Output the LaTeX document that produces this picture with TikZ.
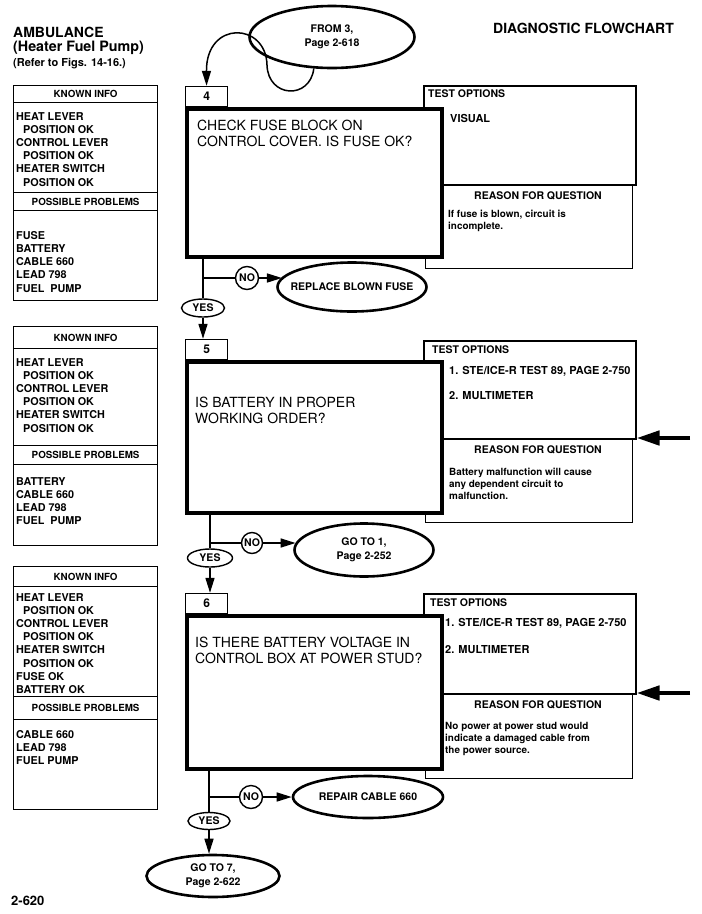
\documentclass[tikz,border=0pt]{standalone}
\usepackage{fontspec}
\setmainfont{TeX Gyre Heros}
\usepackage{tikz}
\usetikzlibrary{positioning,arrows.meta,calc,shapes.geometric}
\newcommand{\fsz}[2]{\fontsize{#1}{#2}\selectfont}
\newcommand{\posok}{\hspace*{7pt}POSITION OK}

\begin{document}
\begin{tikzpicture}[
  x=1pt, y=-1pt,
  every node/.style={inner sep=0pt, font=\fsz{10.8}{13.2}\bfseries},
  infobox/.style={draw, line width=1.2pt, anchor=north west, minimum width=144pt},
  headbox/.style={infobox, font=\fsz{9.8}{12}\bfseries},
  listtxt/.style={anchor=north west, align=left},
  tabbox/.style={draw, line width=1.2pt, minimum width=42pt, minimum height=20pt, font=\fsz{12}{14}\bfseries},
  qbox/.style={draw, fill=white, line width=3.6pt, anchor=north west, minimum width=255pt},
  qtxt/.style={anchor=north west, align=left, font=\fsz{14}{16}},
  optbox/.style={draw, line width=1.5pt, anchor=north west, minimum width=212pt},
  rsnbox/.style={draw, line width=1.1pt, anchor=north west, minimum width=207pt},
  opthead/.style={anchor=base west, font=\fsz{10.5}{12}\bfseries},
  opttxt/.style={anchor=base west, font=\fsz{11}{12}\bfseries},
  rsnhead/.style={anchor=base, font=\fsz{10.5}{12}\bfseries},
  rsntxt/.style={anchor=north west, align=left, font=\fsz{9.9}{12}\bfseries},
  oval/.style={draw, ellipse, line width=2.6pt, inner xsep=-20pt, align=center, font=\fsz{10.5}{14}\bfseries},
  yesnode/.style={draw, ellipse, line width=1.4pt, minimum width=43pt, minimum height=18pt, font=\fsz{10.5}{12}\bfseries},
  nonode/.style={draw, circle, line width=1.4pt, font=\fsz{10.5}{12}\bfseries},
  flow/.style={line width=1.5pt, -{Triangle[length=15pt,width=9pt]}},
  branch/.style={line width=1.5pt},
  bigarrow/.style={line width=4.5pt, -{Triangle[length=23pt,width=14pt]}}
]
\path[use as bounding box, fill=white] (0,0) rectangle (702,914);

\node[anchor=base west, font=\fsz{14}{16}\bfseries] (veh) at (13,37) {AMBULANCE};
\node[anchor=base west, font=\fsz{14.3}{16}\bfseries] (sys) at (13,51) {(Heater Fuel Pump)};
\node[anchor=base west, font=\fsz{11}{12}\bfseries] (figref) at (13,66) {(Refer to Figs. 14-16.)};
\node[anchor=base west, font=\fsz{14}{16}\bfseries] (chart) at (493,33) {DIAGNOSTIC FLOWCHART};
\node[anchor=base west, font=\fsz{13}{15}\bfseries] (pageno) at (11,905) {2-620};

\node[oval, minimum width=165pt, minimum height=62pt] (from3) at (332,37) {FROM 3,\\Page 2-618};

\node[infobox, minimum height=215pt] (left4) at (13,85) {};
\node[headbox, minimum height=17pt] (known4) at (13,85) {KNOWN INFO};
\node[listtxt] (kinfo4) at (16,112) {HEAT LEVER\\\posok\\CONTROL LEVER\\\posok\\HEATER SWITCH\\\posok};
\node[headbox, minimum height=18pt] (poss4) at (13,192) {POSSIBLE PROBLEMS};
\node[listtxt] (plist4) at (16,231) {FUSE\\BATTERY\\CABLE 660\\LEAD 798\\FUEL\ \ PUMP};
\node[optbox, minimum height=99pt] (opt4) at (423,85) {};
\node[rsnbox, minimum height=84pt] (rsn4) at (425,184) {};
\node[qbox, minimum height=148pt] (q4) at (185,107) {};
\node[tabbox, above right=0pt and 0pt of q4.north west] (tab4) {4};
\node[qtxt] (qtxt4) at (197,120) {CHECK FUSE BLOCK ON\\CONTROL COVER. IS FUSE OK?};
\node[opthead] (toh4) at (428,97) {TEST OPTIONS};
\node[opttxt] (tol4) at (450,122) {VISUAL};
\node[rsnhead] (rh4) at (538,199) {REASON FOR QUESTION};
\node[rsntxt] (rt4) at (448,210) {If fuse is blown, circuit is\\incomplete.};
\node[nonode, minimum size=23pt] (no4) at (247,278) {NO};
\node[oval, minimum width=149pt, minimum height=49pt] (fix4) at (352,287) {REPLACE BLOWN FUSE};
\node[yesnode] (yes4) at (203,308) {YES};

\node[infobox, minimum height=219pt] (left5) at (13,326) {};
\node[headbox, minimum height=22pt] (known5) at (13,326) {KNOWN INFO};
\node[listtxt] (kinfo5) at (16,358) {HEAT LEVER\\\posok\\CONTROL LEVER\\\posok\\HEATER SWITCH\\\posok};
\node[headbox, minimum height=19pt] (poss5) at (13,445) {POSSIBLE PROBLEMS};
\node[listtxt] (plist5) at (16,477) {BATTERY\\CABLE 660\\LEAD 798\\FUEL\ \ PUMP};
\node[optbox, minimum height=98pt] (opt5) at (423,340) {};
\node[rsnbox, minimum height=84pt] (rsn5) at (425,438) {};
\node[qbox, minimum height=151pt] (q5) at (185,360) {};
\node[tabbox, above right=0pt and 0pt of q5.north west] (tab5) {5};
\node[qtxt] (qtxt5) at (195,397) {IS BATTERY IN PROPER\\WORKING ORDER?};
\node[opthead] (toh5) at (432,353) {TEST OPTIONS};
\node[opttxt] (tol5a) at (449,374) {1. STE/ICE-R TEST 89, PAGE 2-750};
\node[opttxt] (tol5b) at (449,399) {2. MULTIMETER};
\node[rsnhead] (rh5) at (538,453) {REASON FOR QUESTION};
\node[rsntxt] (rt5) at (449,468) {Battery malfunction will cause\\any dependent circuit to\\malfunction.};
\coordinate (in5) at (690,438);
\node[nonode, minimum size=21pt] (no5) at (252,543) {NO};
\node[oval, minimum width=139pt, minimum height=53pt] (go1) at (364,550) {GO TO 1,\\Page 2-252};
\node[yesnode, minimum width=45pt] (yes5) at (210,558) {YES};

\node[infobox, minimum height=243pt] (left6) at (13,566) {};
\node[headbox, minimum height=20pt] (known6) at (13,566) {KNOWN INFO};
\node[listtxt] (kinfo6) at (16,593) {HEAT LEVER\\\posok\\CONTROL LEVER\\\posok\\HEATER SWITCH\\\posok\\FUSE OK\\BATTERY OK};
\node[headbox, minimum height=23pt] (poss6) at (13,696) {POSSIBLE PROBLEMS};
\node[listtxt] (plist6) at (16,730) {CABLE 660\\LEAD 798\\FUEL PUMP};
\node[optbox, minimum height=100pt] (opt6) at (423,593) {};
\node[rsnbox, minimum height=85pt] (rsn6) at (425,693) {};
\node[qbox, minimum height=153pt] (q6) at (185,614) {};
\node[tabbox, above right=0pt and 0pt of q6.north west] (tab6) {6};
\node[qtxt] (qtxt6) at (195,637) {IS THERE BATTERY VOLTAGE IN\\CONTROL BOX AT POWER STUD?};
\node[opthead] (toh6) at (430,606) {TEST OPTIONS};
\node[opttxt] (tol6a) at (445,626) {1. STE/ICE-R TEST 89, PAGE 2-750};
\node[opttxt] (tol6b) at (445,653) {2. MULTIMETER};
\node[rsnhead] (rh6) at (538,708) {REASON FOR QUESTION};
\node[rsntxt] (rt6) at (445,722) {No power at power stud would\\indicate a damaged cable from\\the power source.};
\coordinate (in6) at (690,693);
\node[nonode, minimum size=23pt] (no6) at (251,797) {NO};
\node[oval, minimum width=150pt, minimum height=42pt] (rep6) at (368,797) {REPAIR CABLE 660};
\node[yesnode, minimum width=42pt, minimum height=17pt] (yes6) at (209,821) {YES};
\node[oval, minimum width=133pt, minimum height=42pt] (go7) at (213,876) {GO TO 7,\\Page 2-622};

\draw[flow] (from3.240) .. controls (310,100) and (268,98) .. (267,65) .. controls (266,22) and (206,20) .. (tab4.north);
\coordinate (br4) at (203,278);
\draw[branch] (q4.south -| br4) -- (yes4.north);
\draw[branch] (br4) -- (no4.west);
\draw[flow] (no4.east) -- (no4.east -| fix4.172);
\draw[flow] (yes4.south) -- (yes4.south |- tab5.north);
\coordinate (br5) at (210,543);
\draw[branch] (q5.south -| br5) -- (yes5.north);
\draw[branch] (br5) -- (no5.west);
\draw[flow] (no5.east) -- (no5.east -| go1.174);
\draw[flow] (yes5.south) -- (yes5.south |- tab6.north);
\draw[bigarrow] (in5) -- (in5 -| opt5.east);
\coordinate (br6) at (209,797);
\draw[branch] (q6.south -| br6) -- (yes6.north);
\draw[branch] (br6) -- (no6.west);
\draw[flow] (no6.east) -- (rep6.west);
\draw[flow] (yes6.south) -- (yes6.south |- go7.north);
\draw[bigarrow] (in6) -- (in6 -| opt6.east);
\end{tikzpicture}
\end{document}
